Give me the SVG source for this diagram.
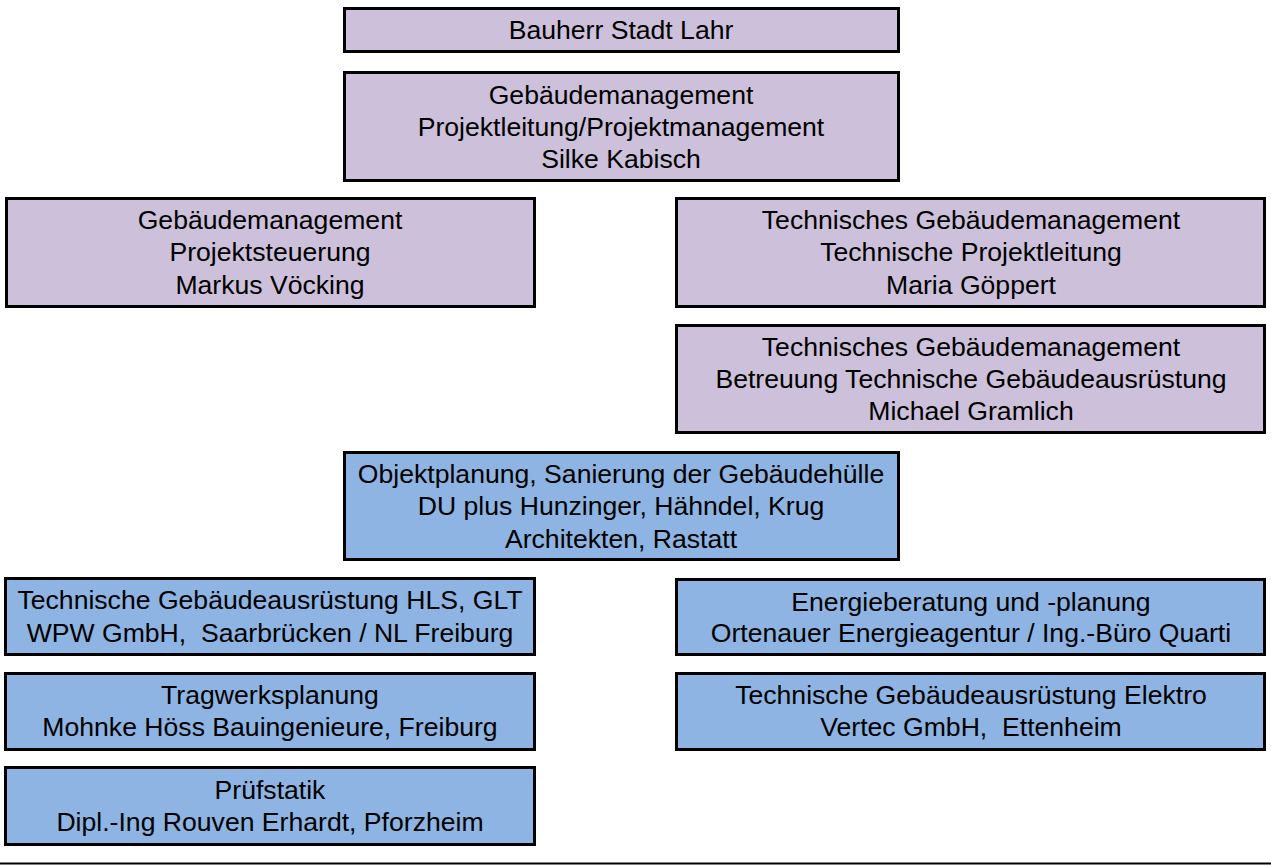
<svg xmlns="http://www.w3.org/2000/svg" width="1271" height="866" viewBox="0 0 1271 866">
<style>
.p{fill:#CCC0DA;stroke:#000;stroke-width:3}
.b{fill:#8DB4E2;stroke:#000;stroke-width:3}
text{font-family:"Liberation Sans",Arial,sans-serif;font-size:26.6px;fill:#000;text-anchor:middle}
</style>
<rect width="1271" height="866" fill="#fff"/>
<g id="n1"><rect class="p" x="344.5" y="8.5" width="554" height="43"/><text x="621" y="39">Bauherr Stadt Lahr</text></g>
<g id="n2"><rect class="p" x="344.5" y="72.5" width="554" height="108"/><text x="621" y="104">Gebäudemanagement</text><text x="621" y="136">Projektleitung/Projektmanagement</text><text x="621" y="168">Silke Kabisch</text></g>
<g id="n3"><rect class="p" x="6.5" y="198.5" width="528" height="108"/><text x="270" y="229">Gebäudemanagement</text><text x="270" y="261">Projektsteuerung</text><text x="270" y="294">Markus Vöcking</text></g>
<g id="n4"><rect class="p" x="676.5" y="198.5" width="588" height="108"/><text x="971" y="229">Technisches Gebäudemanagement</text><text x="971" y="261">Technische Projektleitung</text><text x="971" y="294">Maria Göppert</text></g>
<g id="n5"><rect class="p" x="676.5" y="325.5" width="588" height="107"/><text x="971" y="356">Technisches Gebäudemanagement</text><text x="971" y="388">Betreuung Technische Gebäudeausrüstung</text><text x="971" y="420">Michael Gramlich</text></g>
<g id="n6"><rect class="b" x="344.5" y="452.5" width="554" height="107"/><text x="621" y="483">Objektplanung, Sanierung der Gebäudehülle</text><text x="621" y="515">DU plus Hunzinger, Hähndel, Krug</text><text x="621" y="548">Architekten, Rastatt</text></g>
<g id="n7"><rect class="b" x="5.5" y="578.5" width="529" height="76"/><text x="270" y="609">Technische Gebäudeausrüstung HLS, GLT</text><text x="270" y="642" xml:space="preserve">WPW GmbH,  Saarbrücken / NL Freiburg</text></g>
<g id="n8"><rect class="b" x="5.5" y="673.5" width="529" height="76"/><text x="270" y="704">Tragwerksplanung</text><text x="270" y="736">Mohnke Höss Bauingenieure, Freiburg</text></g>
<g id="n9"><rect class="b" x="5.5" y="767.5" width="529" height="77"/><text x="270" y="799">Prüfstatik</text><text x="270" y="831">Dipl.-Ing Rouven Erhardt, Pforzheim</text></g>
<g id="n10"><rect class="b" x="676.5" y="579.5" width="588" height="75"/><text x="971" y="611">Energieberatung und -planung</text><text x="971" y="642">Ortenauer Energieagentur / Ing.-Büro Quarti</text></g>
<g id="n11"><rect class="b" x="676.5" y="673.5" width="588" height="76"/><text x="971" y="704">Technische Gebäudeausrüstung Elektro</text><text x="971" y="736" xml:space="preserve">Vertec GmbH,  Ettenheim</text></g>
<g id="connectors"><line x1="0" y1="863.5" x2="1271" y2="863.5" stroke="#000" stroke-width="2"/></g>
</svg>
